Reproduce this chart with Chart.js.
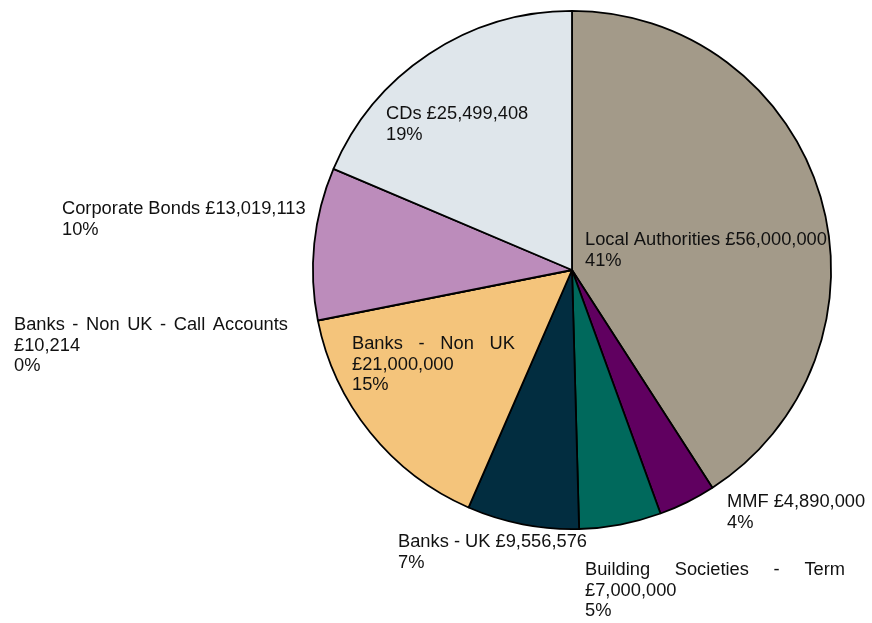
<!DOCTYPE html>
<html>
<head>
<meta charset="utf-8">
<script src="https://cdn.jsdelivr.net/npm/chart.js@4/dist/chart.umd.min.js"></script>
<style>
  html, body { margin: 0; padding: 0; background: #fff; }
  #wrap { width: 872px; height: 623px; position: relative; }
</style>
</head>
<body>
<div id="wrap"><canvas id="myChart"></canvas></div>
<script>
// data, clockwise from 12 o'clock
const categories = [
  'Local Authorities',
  'MMF',
  'Building Societies - Term',
  'Banks - UK',
  'Banks - Non UK',
  'Banks - Non UK - Call Accounts',
  'Corporate Bonds',
  'CDs'
];
const amounts = [56000000, 4890000, 7000000, 9556576, 21000000, 10214, 13019113, 25499408];
const colours = ['#A39A89', '#600060', '#00695C', '#022D40', '#F4C47B', '#F4C47B', '#BC8CBB', '#DFE6EB'];

// where each label sits, measured from the pie centre (px), and how it wraps
const labelPos = [
  { dx: 13,   dy: -31,  split: false },
  { dx: 155,  dy: 231,  split: false },
  { dx: 13,   dy: 299,  split: true, justify: 260 },
  { dx: -174, dy: 271,  split: false },
  { dx: -220, dy: 73,   split: true, justify: 163 },
  { dx: -558, dy: 54,   split: true, justify: 274 },
  { dx: -510, dy: -62,  split: false },
  { dx: -186, dy: -157, split: false }
];

const total = amounts.reduce((a, b) => a + b, 0);
const money = v => '\u00A3' + v.toLocaleString('en-GB');

function labelLines(i) {
  const pct = Math.round(amounts[i] / total * 100) + '%';
  if (labelPos[i].split) return [categories[i], money(amounts[i]), pct];
  return [categories[i] + ' ' + money(amounts[i]), pct];
}

function drawLine(c, text, x, y, width) {
  const words = text.split(' ');
  if (!width || words.length < 2) { c.fillText(text, x, y); return; }
  const used = words.reduce((s, w) => s + c.measureText(w).width, 0);
  const gap = (width - used) / (words.length - 1);
  let px = x;
  words.forEach(w => { c.fillText(w, px, y); px += c.measureText(w).width + gap; });
}

const sliceLabels = {
  id: 'sliceLabels',
  afterDatasetsDraw(chart) {
    const arc = chart.getDatasetMeta(0).data[0];
    if (!arc) return;
    const c = chart.ctx;
    c.save();
    c.font = '18.3px "Liberation Sans", Arial, sans-serif';
    c.fillStyle = '#111';
    c.textAlign = 'left';
    c.textBaseline = 'middle';
    categories.forEach((cat, i) => {
      const p = labelPos[i];
      labelLines(i).forEach((ln, k) => {
        drawLine(c, ln, arc.x + p.dx, arc.y + p.dy + 1 + k * 20.7, k === 0 ? p.justify : 0);
      });
    });
    c.restore();
  }
};

const ctx = document.getElementById('myChart');
new Chart(ctx, {
  type: 'pie',
  data: {
    labels: categories,
    datasets: [{
      data: amounts,
      backgroundColor: colours,
      borderColor: '#000',
      borderWidth: 1.8,
      hoverOffset: 0
    }]
  },
  options: {
    responsive: true,
    maintainAspectRatio: false,
    animation: false,
    layout: { padding: { left: 312, right: 40, top: 10, bottom: 93 } },
    plugins: {
      legend: { display: false },
      tooltip: { enabled: false }
    }
  },
  plugins: [sliceLabels]
});
</script>
</body>
</html>
